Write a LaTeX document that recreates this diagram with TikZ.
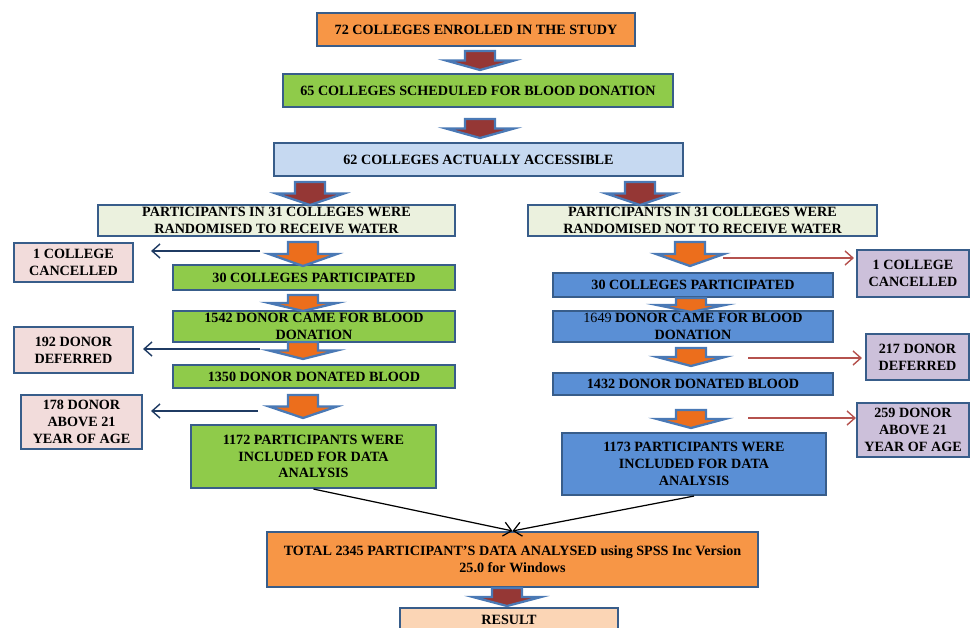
\documentclass[tikz,border=0pt]{standalone}
\usepackage{fontspec}
\setmainfont{Liberation Serif}
\usetikzlibrary{arrows.meta}

\definecolor{boxline}{HTML}{385D8A}
\definecolor{orangebox}{HTML}{F79646}
\definecolor{greenbox}{HTML}{8FCB4A}
\definecolor{skybox}{HTML}{C6D9F1}
\definecolor{creambox}{HTML}{EBF1DE}
\definecolor{pinkbox}{HTML}{F2DCDB}
\definecolor{lilacbox}{HTML}{CCC0DA}
\definecolor{bluebox}{HTML}{5A8FD5}
\definecolor{peachbox}{HTML}{FBD5B5}
\definecolor{darkred}{HTML}{953735}
\definecolor{arroworange}{HTML}{EC6E1C}
\definecolor{arrowrim}{HTML}{4A79B5}
\definecolor{navyline}{HTML}{1F3B63}
\definecolor{redline}{HTML}{B5524E}

% fat down arrow: x, top, tip, fill
\newcommand{\fatarrow}[4]{%
  \filldraw[fatarrow, fill=#4] ({#1-15},#2) -- ({#1+15},#2) -- ({#1+15},{(#2+#3)/2})
    -- ({#1+34},{(#2+#3)/2}) -- (#1,#3) -- ({#1-34},{(#2+#3)/2})
    -- ({#1-15},{(#2+#3)/2}) -- cycle;}

\begin{document}
\begin{tikzpicture}[x=0.02cm, y=-0.02cm]
    % Styles
    \tikzstyle{box} = [rectangle, draw=boxline, line width=1.2pt, inner sep=0pt, align=center, font=\fontsize{8.05}{9.5}\selectfont\bfseries]
    \tikzstyle{fatarrow} = [draw=arrowrim, line width=1.3pt, line join=miter]
    \tikzstyle{leftarrow} = [draw=navyline, line width=0.8pt, -{Straight Barb[length=4.5pt,width=8pt]}]
    \tikzstyle{rightarrow} = [draw=redline, line width=0.8pt, -{Straight Barb[length=4.5pt,width=8pt]}]
    \tikzstyle{joinarrow} = [draw=black, line width=0.7pt, -{Straight Barb[length=4.5pt,width=8pt]}]

    \useasboundingbox (0,0) rectangle (970,628);

    % Nodes
    \node[box, fill=orangebox, minimum width=6.36cm, minimum height=0.66cm] (enrolled) at (476,29.5) {72 COLLEGES ENROLLED IN  THE STUDY};
    \node[box, fill=greenbox, minimum width=7.8cm, minimum height=0.66cm] (scheduled) at (478,90.5) {65 COLLEGES SCHEDULED FOR BLOOD DONATION};
    \node[box, fill=skybox, minimum width=8.18cm, minimum height=0.66cm] (accessible) at (478.5,159.5) {62 COLLEGES  ACTUALLY ACCESSIBLE};

    \node[box, fill=creambox, minimum width=7.14cm, minimum height=0.62cm] (waterL) at (276.5,220.5) {PARTICIPANTS IN  31 COLLEGES WERE\\RANDOMISED TO RECEIVE WATER};
    \node[box, fill=creambox, minimum width=6.98cm, minimum height=0.62cm] (waterR) at (702.5,220.5) {PARTICIPANTS IN  31 COLLEGES WERE\\RANDOMISED NOT TO RECEIVE WATER};

    % left arm
    \node[box, fill=pinkbox, minimum width=2.38cm, minimum height=0.78cm] (cancelL) at (73.5,262.5) {1 COLLEGE\\CANCELLED};
    \node[box, fill=greenbox, minimum width=5.64cm, minimum height=0.5cm] (collegesL) at (314,277.5) {30 COLLEGES PARTICIPATED};
    \node[box, fill=greenbox, minimum width=5.64cm, minimum height=0.62cm] (cameL) at (314,326.5) {1542 DONOR CAME FOR  BLOOD\\DONATION};
    \node[box, fill=pinkbox, minimum width=2.38cm, minimum height=0.92cm] (deferL) at (73.5,350) {192 DONOR\\DEFERRED};
    \node[box, fill=greenbox, minimum width=5.64cm, minimum height=0.46cm] (donatedL) at (314,376.5) {1350 DONOR DONATED BLOOD};
    \node[box, fill=pinkbox, minimum width=2.42cm, minimum height=1.08cm] (ageL) at (81.5,422) {178 DONOR\\ABOVE 21\\YEAR OF AGE};
    \node[box, fill=greenbox, minimum width=4.9cm, minimum height=1.26cm] (includedL) at (313.5,456.5) {1172  PARTICIPANTS WERE\\INCLUDED FOR DATA\\ANALYSIS};

    % right arm
    \node[box, fill=lilacbox, minimum width=2.24cm, minimum height=0.94cm] (cancelR) at (913,273.5) {1 COLLEGE\\CANCELLED};
    \node[box, fill=bluebox, minimum width=5.6cm, minimum height=0.48cm] (collegesR) at (693,285) {30 COLLEGES PARTICIPATED};
    \node[box, fill=bluebox, minimum width=5.6cm, minimum height=0.62cm] (cameR) at (693,326.5) {{\mdseries 1649}  DONOR CAME FOR BLOOD\\DONATION};
    \node[box, fill=lilacbox, minimum width=2.06cm, minimum height=0.92cm] (deferR) at (917.5,357) {217 DONOR\\DEFERRED};
    \node[box, fill=bluebox, minimum width=5.6cm, minimum height=0.44cm] (donatedR) at (693,384) {1432 DONOR DONATED BLOOD};
    \node[box, fill=lilacbox, minimum width=2.24cm, minimum height=1.08cm] (ageR) at (913,430) {259 DONOR\\ABOVE 21\\YEAR OF AGE};
    \node[box, fill=bluebox, minimum width=5.28cm, minimum height=1.24cm] (includedR) at (694,464) {1173  PARTICIPANTS WERE\\INCLUDED FOR DATA\\ANALYSIS};

    % pooled
    \node[box, fill=orangebox, minimum width=9.82cm, minimum height=1.1cm] (total) at (512.5,559.5) {TOTAL 2345  PARTICIPANT'S DATA ANALYSED using SPSS Inc Version\\25.0 for Windows};
    \node[box, fill=peachbox, minimum width=4.36cm, minimum height=0.48cm] (result) at (509,620) {RESULT};

    % Fat arrows
    \fatarrow{480}{51}{70}{darkred}
    \fatarrow{480}{119}{138}{darkred}
    \fatarrow{310}{182}{205}{darkred}
    \fatarrow{640}{182}{205}{darkred}
    \fatarrow{303}{242}{266}{arroworange}
    \fatarrow{303}{295}{311}{arroworange}
    \fatarrow{303}{342}{359}{arroworange}
    \fatarrow{303}{395}{418}{arroworange}
    \fatarrow{690}{242}{266}{arroworange}
    \fatarrow{691}{298}{312}{arroworange}
    \fatarrow{691}{348}{366}{arroworange}
    \fatarrow{691}{410}{428}{arroworange}
    \fatarrow{507}{588}{606}{darkred}

    % Side arrows
    \coordinate (exitL1) at (260,251);
    \coordinate (exitL2) at (260,349);
    \coordinate (exitL3) at (258,411);
    \coordinate (exitR1) at (723,258);
    \coordinate (exitR2) at (748,358);
    \coordinate (exitR3) at (748,418);
    \draw[leftarrow, shorten >=0.34cm] (exitL1) -- (exitL1 -| cancelL.east);
    \draw[leftarrow, shorten >=0.18cm] (exitL2) -- (exitL2 -| deferL.east);
    \draw[leftarrow, shorten >=0.16cm] (exitL3) -- (exitL3 -| ageL.east);
    \draw[rightarrow, shorten >=0.04cm] (exitR1) -- (exitR1 -| cancelR.west);
    \draw[rightarrow, shorten >=0.06cm] (exitR2) -- (exitR2 -| deferR.west);
    \draw[rightarrow] (exitR3) -- (exitR3 -| ageR.west);

    % Join arrows
    \draw[joinarrow] (includedL.south) -- (total.north);
    \draw[joinarrow] (includedR.south) -- (total.north);
\end{tikzpicture}
\end{document}
